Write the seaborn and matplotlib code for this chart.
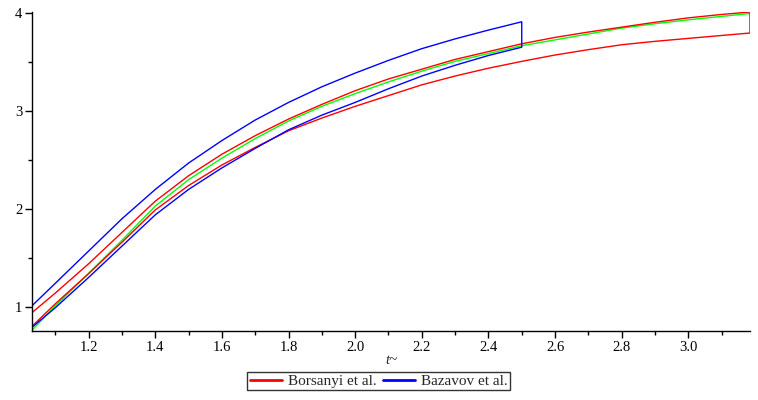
import numpy as np
import pandas as pd
import seaborn as sns
import matplotlib.pyplot as plt
from matplotlib.ticker import MultipleLocator

# valores
t = [1.03, 1.1, 1.2, 1.3, 1.4, 1.5, 1.6, 1.7, 1.8, 1.9, 2.0, 2.1, 2.2, 2.3, 2.4, 2.5,
     2.6, 2.7, 2.8, 2.9, 3.0, 3.1, 3.185]
t_baz = t[:16]

bors_sup = [0.94, 1.14, 1.44, 1.76, 2.08, 2.34, 2.56, 2.75, 2.92, 3.07, 3.21, 3.33, 3.43, 3.53,
            3.61, 3.69, 3.755, 3.81, 3.86, 3.91, 3.955, 3.99, 4.015]
bors_inf = [0.80, 1.03, 1.34, 1.66, 1.99, 2.24, 2.45, 2.63, 2.80, 2.93, 3.05, 3.16, 3.27, 3.36,
            3.44, 3.51, 3.575, 3.63, 3.68, 3.715, 3.745, 3.775, 3.80]
central = [0.76, 1.01, 1.34, 1.68, 2.03, 2.30, 2.52, 2.72, 2.90, 3.05, 3.18, 3.30, 3.41, 3.51,
           3.59, 3.67, 3.73, 3.79, 3.85, 3.895, 3.935, 3.97, 4.00]
baz_sup = [1.01, 1.24, 1.57, 1.90, 2.20, 2.47, 2.70, 2.91, 3.09, 3.25, 3.39, 3.52, 3.64, 3.74,
           3.83, 3.915]
baz_inf = [0.79, 0.99, 1.30, 1.62, 1.94, 2.20, 2.42, 2.62, 2.81, 2.96, 3.09, 3.23, 3.36, 3.47,
           3.57, 3.655]

# banda: borde superior de izquierda a derecha y luego el inferior de vuelta
def banda(x, sup, inf):
    return pd.DataFrame({'t': list(x) + list(x)[::-1], 'v': list(sup) + list(inf)[::-1]})

df_bors = banda(t, bors_sup, bors_inf)
df_baz = banda(t_baz, baz_sup, baz_inf)
df_c = pd.DataFrame({'t': t, 'v': central})

sns.set_style('ticks')
plt.rcParams['font.family'] = ['Liberation Serif', 'DejaVu Serif']
plt.rcParams['font.size'] = 10.5

fig = plt.figure(figsize=(7.58, 4.0), dpi=100)
ax = fig.add_axes([0.0422, 0.1725, 0.9472, 0.7975])

opts = dict(x='t', y='v', lw=1.0, sort=False, estimator=None, errorbar=None, ax=ax)
sns.lineplot(data=df_c, color='#00ff00', label='_nolegend_', **opts)
sns.lineplot(data=df_bors, color='#ff0000', label='Borsanyi et al.', **opts)
sns.lineplot(data=df_baz, color='#0000ff', label='Bazavov et al.', **opts)

ax.set_xlim(1.03, 3.185)
ax.set_ylim(0.752, 4.015)
ax.xaxis.set_major_locator(MultipleLocator(0.2))
ax.xaxis.set_minor_locator(MultipleLocator(0.1))
ax.yaxis.set_major_locator(MultipleLocator(1))
ax.yaxis.set_minor_locator(MultipleLocator(0.5))
ax.xaxis.set_major_formatter(plt.FuncFormatter(lambda v, p: f'{v:.1f}'))
ax.yaxis.set_major_formatter(plt.FuncFormatter(lambda v, p: f'{v:.0f}'))
ax.tick_params(which='major', length=5, width=1, color='black', labelcolor='black', pad=2)
ax.tick_params(which='minor', length=3, width=1, color='black')
for s in ['left', 'bottom']:
    ax.spines[s].set_color('black')
    ax.spines[s].set_linewidth(1)
sns.despine(ax=ax)

ax.set_xlabel('t~', fontstyle='italic', labelpad=0)
ax.set_ylabel('')

leg = ax.legend(ncol=2, loc='center', bbox_to_anchor=(378.5 / 758, 1 - 381 / 400),
                bbox_transform=fig.transFigure, frameon=True, fancybox=False,
                edgecolor='black', handlelength=2.15, handletextpad=0.35, columnspacing=0.4,
                borderpad=0.15, borderaxespad=0, fontsize=11)
leg.get_frame().set_linewidth(1)
for h in leg.get_lines():
    h.set_linewidth(2)

fig.savefig('out.png', dpi=100)
